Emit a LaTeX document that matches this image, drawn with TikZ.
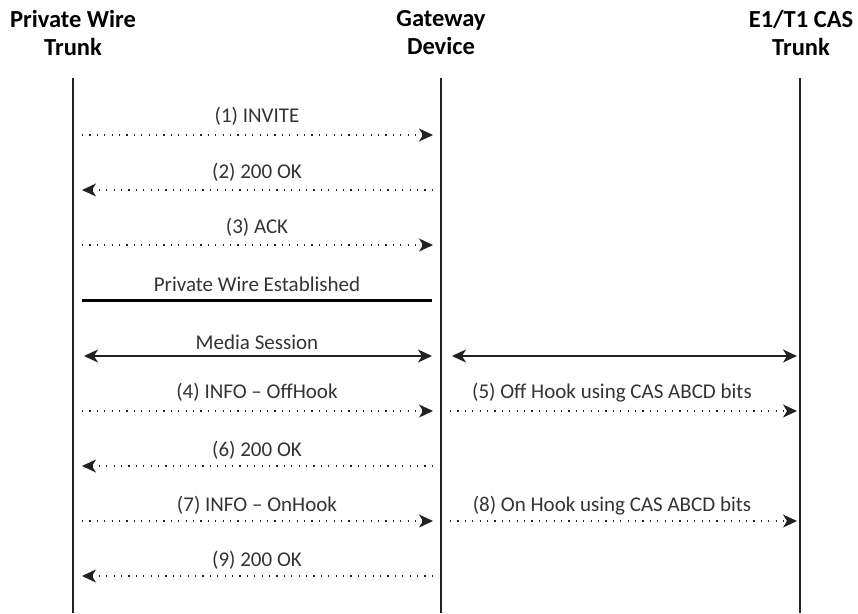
\documentclass[tikz,border=0pt]{standalone}
\usepackage{fontspec}
\setmainfont{Carlito}
\usetikzlibrary{arrows.meta}
\definecolor{ink}{HTML}{222222}
\definecolor{txt}{HTML}{333333}
\begin{document}
\begin{tikzpicture}[x=1pt,y=-1pt,
  hdr/.style={font=\fontsize{24.5}{28}\selectfont\bfseries, text=black, align=center, inner sep=0pt},
  lbl/.style={font=\fontsize{21}{24}\selectfont, text=txt, inner sep=0pt, anchor=base},
  life/.style={draw=ink, line width=1.4pt},
  msg/.style={draw=ink, line width=1.1pt, dash pattern=on 1.2pt off 6.2pt, -{Stealth[length=14pt,width=13pt,inset=4pt]}},
  media/.style={draw=ink, line width=1.3pt, {Stealth[length=14pt,width=13pt,inset=4pt]}-{Stealth[length=14pt,width=13pt,inset=4pt]}},
  estab/.style={draw=black, line width=3pt}]
\useasboundingbox (0,0) rectangle (858,613);
% headers
\node[hdr] (hA) at (73,33) {Private Wire\\Trunk};
\node[hdr] (hB) at (441,33) {Gateway\\Device};
\node[hdr] (hC) at (801,33) {E1/T1 CAS\\Trunk};
% lifelines
\coordinate (A0) at (73,78); \coordinate (A1) at (73,613);
\coordinate (B0) at (441,78); \coordinate (B1) at (441,613);
\coordinate (C0) at (800,78); \coordinate (C1) at (800,613);
\draw[life] (A0) -- (A1);
\draw[life] (B0) -- (B1);
\draw[life] (C0) -- (C1);
% message endpoints
\foreach \n/\y in {1/135,2/190,3/245,4/411,6/466,7/521,9/576}{
  \coordinate (L\n) at (82,\y); \coordinate (R\n) at (433,\y);}
\coordinate (L5) at (450,411); \coordinate (R5) at (797,411);
\coordinate (L8) at (450,521); \coordinate (R8) at (797,521);
\coordinate (Le) at (82,300); \coordinate (Re) at (432,300);
\coordinate (Lm) at (84,356); \coordinate (Rm) at (432,356);
\coordinate (Lm2) at (452,356); \coordinate (Rm2) at (797,356);
% arrows
\draw[msg] (L1) -- (R1);
\draw[msg] (R2) -- (L2);
\draw[msg] (L3) -- (R3);
\draw[estab] (Le) -- (Re);
\draw[media] (Lm) -- (Rm);
\draw[media] (Lm2) -- (Rm2);
\draw[msg] (L4) -- (R4);
\draw[msg] (L5) -- (R5);
\draw[msg] (R6) -- (L6);
\draw[msg] (L7) -- (R7);
\draw[msg] (L8) -- (R8);
\draw[msg] (R9) -- (L9);
% labels
\node[lbl] (t1) at (257,122) {(1) INVITE};
\node[lbl] (t2) at (257,178) {(2) 200 OK};
\node[lbl] (t3) at (257,233) {(3) ACK};
\node[lbl] (te) at (257,291) {Private Wire Established};
\node[lbl] (tm) at (257,349) {Media Session};
\node[lbl] (t4) at (257,398) {(4) INFO -- OffHook};
\node[lbl] (t5) at (612,398) {(5) Off Hook using CAS ABCD bits};
\node[lbl] (t6) at (257,456) {(6) 200 OK};
\node[lbl] (t7) at (257,511) {(7) INFO -- OnHook};
\node[lbl] (t8) at (612,511) {(8) On Hook using CAS ABCD bits};
\node[lbl] (t9) at (257,566) {(9) 200 OK};
\end{tikzpicture}
\end{document}
